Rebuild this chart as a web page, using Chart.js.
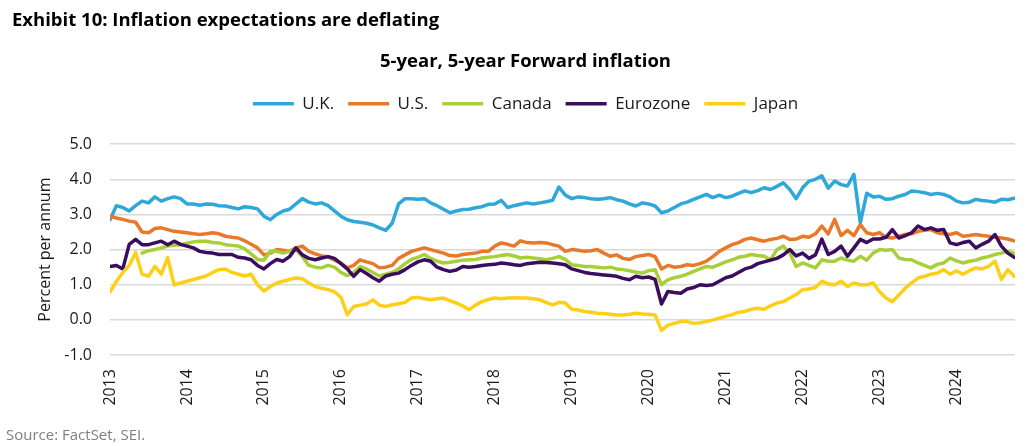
<!DOCTYPE html>
<html>
<head>
<meta charset="utf-8">
<title>Exhibit 10</title>
<script src="https://cdn.jsdelivr.net/npm/chart.js@4.4.1/dist/chart.umd.min.js"></script>
<style>
  html, body { margin: 0; padding: 0; background: #fff; }
  #wrap { position: relative; width: 1033px; height: 446px; overflow: hidden; }
  #exhibit { position: absolute; left: 12px; top: 8px; font: bold 18.5px 'Open Sans', sans-serif; line-height: 22px; color: #000; white-space: nowrap; }
  #source { position: absolute; left: 6px; top: 425px; font: 15px 'Open Sans', sans-serif; line-height: 18px; color: #7f7f7f; white-space: nowrap; }
  #chart { position: absolute; left: 0; top: 0; }
</style>
</head>
<body>
<div id="wrap">
  <canvas id="chart" width="1033" height="446"></canvas>
  <div id="exhibit">Exhibit 10: Inflation expectations are deflating</div>
  <div id="source">Source: FactSet, SEI.</div>
</div>
<script>
/* 5y5y forward inflation, monthly readings from Jan 2013 to Oct 2024 */
var START_YEAR = 2013;
var X_MAX = 2024.76;
var Y_TICKS = [-1, 0, 1, 2, 3, 4, 5];

var seriesNames = ['U.K.', 'U.S.', 'Canada', 'Eurozone', 'Japan'];
var seriesColors = ['#2ea7d9', '#e9792a', '#a8cf3a', '#3a0d5e', '#fdd017'];

var uk = [
  2.85, 3.25, 3.2, 3.1, 3.25, 3.38, 3.33, 3.5, 3.38, 3.45, 3.5, 3.45,
  3.3, 3.3, 3.26, 3.3, 3.29, 3.25, 3.24, 3.2, 3.16, 3.22, 3.2, 3.16,
  2.95, 2.85, 3.0, 3.1, 3.15, 3.3, 3.45, 3.35, 3.3, 3.33, 3.25, 3.1,
  2.95, 2.85, 2.8, 2.78, 2.75, 2.7, 2.62, 2.55, 2.75, 3.3, 3.45, 3.45,
  3.43, 3.45, 3.33, 3.25, 3.15, 3.05, 3.1, 3.14, 3.15, 3.19, 3.22, 3.29,
  3.3, 3.4, 3.2, 3.25, 3.29, 3.33, 3.3, 3.33, 3.36, 3.4, 3.78, 3.55,
  3.45, 3.5, 3.48, 3.45, 3.43, 3.45, 3.48, 3.42, 3.38, 3.3, 3.24, 3.33,
  3.3, 3.24, 3.05, 3.1, 3.2, 3.3, 3.35, 3.43, 3.5, 3.57, 3.48, 3.55,
  3.48, 3.52, 3.6, 3.67, 3.62, 3.68, 3.76, 3.71, 3.8, 3.9, 3.71, 3.45,
  3.76, 3.95, 4.0, 4.1, 3.75, 3.95, 3.85, 3.81, 4.14, 2.76, 3.6, 3.5,
  3.52, 3.43, 3.45, 3.52, 3.57, 3.67, 3.65, 3.62, 3.57, 3.6, 3.57, 3.5,
  3.38, 3.33, 3.35, 3.43, 3.4, 3.38, 3.35, 3.43, 3.42, 3.46
];

var us = [
  2.95, 2.9, 2.86, 2.81, 2.78, 2.5, 2.48, 2.6, 2.62, 2.57, 2.52, 2.5,
  2.48, 2.45, 2.43, 2.45, 2.48, 2.45, 2.38, 2.35, 2.33, 2.25, 2.15, 2.05,
  1.85, 1.9, 2.0, 1.98, 1.95, 2.05, 2.1, 1.95, 1.88, 1.82, 1.8, 1.7,
  1.62, 1.48, 1.55, 1.71, 1.65, 1.6, 1.48, 1.5, 1.55, 1.75, 1.85, 1.95,
  2.0, 2.05, 2.0, 1.95, 1.9, 1.83, 1.82, 1.86, 1.88, 1.9, 1.95, 1.95,
  2.1, 2.19, 2.15, 2.1, 2.25, 2.2, 2.19, 2.2, 2.19, 2.14, 2.1, 1.95,
  2.0, 1.98, 1.95, 1.97, 2.0, 1.9, 1.81, 1.85, 1.75, 1.72, 1.8, 1.83,
  1.86, 1.8, 1.45, 1.55, 1.5, 1.52, 1.57, 1.55, 1.6, 1.67, 1.8, 1.95,
  2.05, 2.14, 2.2, 2.29, 2.33, 2.28, 2.24, 2.29, 2.32, 2.38, 2.29, 2.3,
  2.38, 2.35, 2.45, 2.67, 2.45, 2.86, 2.4, 2.55, 2.4, 2.71, 2.48, 2.43,
  2.48, 2.35, 2.33, 2.38, 2.43, 2.45, 2.52, 2.55, 2.57, 2.48, 2.45, 2.43,
  2.48, 2.38, 2.4, 2.43, 2.4, 2.38, 2.35, 2.33, 2.3, 2.25
];

var canada = [
  null, null, null, null, null, 1.9, 1.97, 2.0, 2.05, 2.1, 2.12, 2.14,
  2.18, 2.22, 2.24, 2.24, 2.2, 2.19, 2.14, 2.12, 2.1, 2.02, 1.88, 1.72,
  1.7, 1.95, 1.95, 1.9, 1.95, 2.0, 1.8, 1.55, 1.5, 1.48, 1.55, 1.5,
  1.35, 1.26, 1.35, 1.52, 1.45, 1.35, 1.25, 1.3, 1.35, 1.45, 1.6, 1.72,
  1.78, 1.86, 1.75, 1.67, 1.62, 1.64, 1.67, 1.7, 1.71, 1.72, 1.76, 1.78,
  1.8, 1.83, 1.86, 1.82, 1.76, 1.78, 1.76, 1.74, 1.71, 1.75, 1.8, 1.72,
  1.57, 1.55, 1.52, 1.52, 1.5, 1.48, 1.5, 1.45, 1.43, 1.4, 1.36, 1.33,
  1.4, 1.43, 1.0, 1.14, 1.2, 1.24, 1.3, 1.38, 1.45, 1.52, 1.5, 1.57,
  1.65, 1.71, 1.78, 1.81, 1.86, 1.83, 1.81, 1.71, 2.0, 2.1, 1.9, 1.52,
  1.62, 1.55, 1.48, 1.71, 1.67, 1.67, 1.76, 1.7, 1.67, 1.81, 1.7, 1.9,
  2.0, 1.98, 2.0, 1.76, 1.72, 1.71, 1.62, 1.55, 1.48, 1.58, 1.62, 1.76,
  1.68, 1.62, 1.67, 1.7, 1.76, 1.8, 1.86, 1.9, 1.95, 1.9
];

var eurozone = [
  1.52, 1.55, 1.45, 2.15, 2.29, 2.14, 2.14, 2.19, 2.24, 2.14, 2.24, 2.15,
  2.1, 2.05, 1.95, 1.92, 1.9, 1.86, 1.86, 1.86, 1.78, 1.76, 1.71, 1.55,
  1.45, 1.6, 1.72, 1.67, 1.8, 2.05, 1.85, 1.75, 1.71, 1.76, 1.8, 1.75,
  1.6, 1.45, 1.24, 1.43, 1.32, 1.2, 1.1, 1.25, 1.3, 1.33, 1.43, 1.55,
  1.65, 1.71, 1.67, 1.5, 1.43, 1.38, 1.42, 1.52, 1.5, 1.52, 1.55, 1.57,
  1.58, 1.62, 1.6, 1.57, 1.55, 1.6, 1.62, 1.64, 1.63, 1.62, 1.6, 1.57,
  1.45, 1.4, 1.35, 1.32, 1.3, 1.28, 1.26, 1.24, 1.18, 1.14, 1.24, 1.2,
  1.22, 1.15, 0.45, 0.81, 0.78, 0.76, 0.88, 0.92, 1.0, 0.98, 1.0, 1.1,
  1.2, 1.25, 1.35, 1.45, 1.5, 1.6, 1.65, 1.7, 1.75, 1.85, 2.0, 1.82,
  1.9, 1.75, 1.85, 2.3, 1.86, 1.95, 2.1, 1.81, 2.05, 2.29, 2.2, 2.3,
  2.3, 2.35, 2.57, 2.33, 2.4, 2.48, 2.67, 2.57, 2.62, 2.55, 2.57, 2.19,
  2.14, 2.2, 2.24, 2.05, 2.15, 2.24, 2.43, 2.1, 1.9, 1.78
];

var japan = [
  0.8, 1.1, 1.35, 1.55, 1.92, 1.3, 1.24, 1.52, 1.3, 1.77, 1.0, 1.05,
  1.1, 1.15, 1.2, 1.25, 1.35, 1.43, 1.45, 1.35, 1.3, 1.25, 1.3, 1.0,
  0.82, 0.95, 1.05, 1.1, 1.15, 1.19, 1.17, 1.05, 0.95, 0.9, 0.86, 0.8,
  0.65, 0.15, 0.38, 0.42, 0.45, 0.57, 0.42, 0.38, 0.43, 0.46, 0.5, 0.62,
  0.64, 0.6, 0.57, 0.6, 0.62, 0.55, 0.48, 0.4, 0.29, 0.42, 0.52, 0.58,
  0.62, 0.6, 0.62, 0.63, 0.62, 0.62, 0.6, 0.57, 0.5, 0.43, 0.5, 0.48,
  0.3, 0.28, 0.24, 0.22, 0.19, 0.18, 0.16, 0.14, 0.14, 0.16, 0.19, 0.17,
  0.16, 0.14, -0.3, -0.15, -0.1, -0.05, -0.05, -0.1, -0.08, -0.05, 0.0, 0.05,
  0.1, 0.15, 0.22, 0.24, 0.3, 0.33, 0.3, 0.4, 0.48, 0.52, 0.62, 0.72,
  0.86, 0.88, 0.92, 1.1, 1.02, 1.0, 1.1, 0.95, 1.05, 1.0, 1.0, 1.05,
  0.8, 0.62, 0.52, 0.71, 0.9, 1.05, 1.19, 1.24, 1.3, 1.33, 1.43, 1.3,
  1.4, 1.3, 1.4, 1.48, 1.45, 1.52, 1.67, 1.15, 1.43, 1.24
];

var seriesValues = [uk, us, canada, eurozone, japan];

// month i -> decimal year on the linear x axis
function toPoints(values) {
  return values.map(function (v, i) { return { x: START_YEAR + i / 12, y: v }; });
}

var FONT = 'Open Sans';
var datasets = seriesNames.map(function (name, i) {
  return {
    label: name,
    data: toPoints(seriesValues[i]),
    borderColor: seriesColors[i],
    backgroundColor: seriesColors[i],
    borderWidth: 3.5,
    borderJoinStyle: 'round',
    borderCapStyle: 'round',
    pointRadius: 0,
    tension: 0,
    spanGaps: false,
    xAxisID: 'x',
    yAxisID: 'y',
    order: seriesNames.length - i // later series drawn on top, like the original
  };
});

new Chart(document.getElementById('chart').getContext('2d'), {
  type: 'line',
  data: { datasets: datasets },
  options: {
    responsive: false,
    animation: false,
    events: [],
    layout: { padding: { top: 44, left: 36, right: 18, bottom: 36 } },
    plugins: {
      title: {
        display: true,
        text: '5-year, 5-year Forward inflation',
        color: '#000',
        font: { family: FONT, size: 18.5, weight: 'bold' },
        padding: { top: 7, bottom: 8 }
      },
      legend: {
        position: 'top',
        labels: {
          usePointStyle: true,
          pointStyle: 'line',
          pointStyleWidth: 41,
          padding: 14,
          color: '#1a1a1a',
          font: { family: FONT, size: 17 },
          sort: function (a, b) { return a.datasetIndex - b.datasetIndex; }
        }
      },
      tooltip: { enabled: false }
    },
    scales: {
      x: {
        type: 'linear',
        position: 'bottom',
        min: START_YEAR,
        max: X_MAX,
        grid: { display: false },
        border: { display: false },
        ticks: {
          stepSize: 1,
          includeBounds: false,
          autoSkip: false,
          minRotation: 90,
          maxRotation: 90,
          padding: 6,
          color: '#1a1a1a',
          font: { family: FONT, size: 16 },
          callback: function (v) { return Number.isInteger(v) ? String(v) : ''; }
        },
        afterFit: function (s) { s.height = 55; }
      },
      // empty spacer between legend and plot
      gap: {
        type: 'linear',
        axis: 'x',
        position: 'top',
        grid: { display: false },
        border: { display: false },
        ticks: { display: false },
        afterFit: function (s) { s.height = 22; }
      },
      y: {
        min: Y_TICKS[0],
        max: Y_TICKS[Y_TICKS.length - 1],
        afterBuildTicks: function (s) { s.ticks = Y_TICKS.map(function (v) { return { value: v }; }); },
        grid: { color: '#d9d9d9', lineWidth: 1.5, drawTicks: false },
        border: { display: false },
        ticks: {
          padding: 18,
          color: '#1a1a1a',
          font: { family: FONT, size: 16 },
          callback: function (v) { return v.toFixed(1); }
        },
        title: {
          display: true,
          text: 'Percent per annum',
          color: '#1a1a1a',
          font: { family: FONT, size: 16 },
          padding: { top: 0, bottom: 0 }
        },
        afterFit: function (s) { s.width = 74; }
      }
    }
  }
});
</script>
</body>
</html>
